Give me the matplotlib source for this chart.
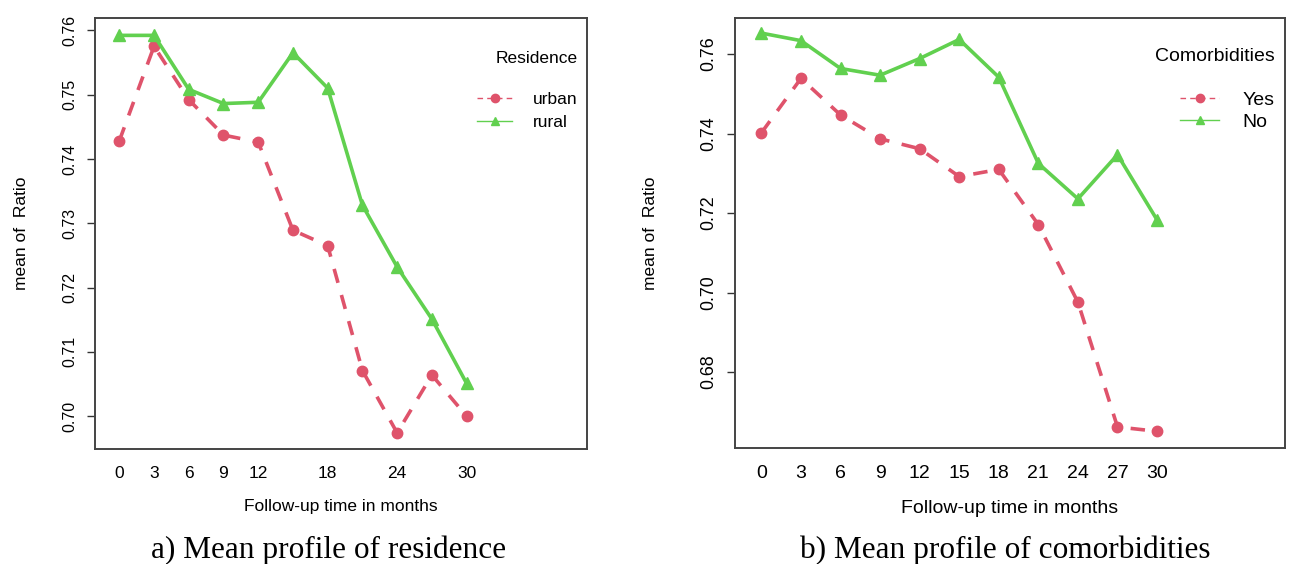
import matplotlib
matplotlib.use("Agg")
import matplotlib.pyplot as plt
from matplotlib.lines import Line2D

plt.rcParams["font.family"] = ["Liberation Sans", "DejaVu Sans"]

months = [0, 3, 6, 9, 12, 15, 18, 21, 24, 27, 30]

# panel a: residence
urban = [0.7428, 0.7575, 0.7492, 0.7437, 0.7426, 0.7289, 0.7265, 0.7071, 0.6974, 0.7064, 0.7000]
rural = [0.7592, 0.7592, 0.7508, 0.7486, 0.7488, 0.7565, 0.7510, 0.7328, 0.7232, 0.7151, 0.7051]
ticks_a = [0, 3, 6, 9, 12, 18, 24, 30]
yticks_a = [0.70, 0.71, 0.72, 0.73, 0.74, 0.75, 0.76]

# panel b: comorbidities
yes = [0.7402, 0.7539, 0.7447, 0.7387, 0.7362, 0.7292, 0.7310, 0.7171, 0.6976, 0.6662, 0.6651]
no = [0.7653, 0.7634, 0.7564, 0.7547, 0.7589, 0.7637, 0.7542, 0.7325, 0.7236, 0.7347, 0.7183]
ticks_b = months
yticks_b = [0.68, 0.70, 0.72, 0.74, 0.76]

RED = "#DF536B"
GREEN = "#61D04F"

fig = plt.figure(figsize=(12.9, 5.64), dpi=100)
axa = fig.add_axes([95 / 1290, 1 - 449 / 564, 492 / 1290, 431 / 564])
axb = fig.add_axes([735 / 1290, 1 - 448 / 564, 550 / 1290, 430 / 564])


def draw(ax, s1, s2, names, title, xticks, yticks, xlim, ylim, caption, cx,
         k, ypad, lspace, leg_y):
    # k: font scale of the panel (the two panels were pasted at different sizes)
    ax.plot(months, s1, color=RED, lw=2.6, dashes=(4, 3.5), marker="o", ms=7.5, mec=RED)
    ax.plot(months, s2, color=GREEN, lw=2.6, marker="^", ms=8, mec=GREEN)
    ax.set_xlim(*xlim)
    ax.set_ylim(*ylim)
    ax.set_xticks(xticks)
    ax.set_xticklabels([str(t) for t in xticks])
    ax.tick_params(axis="x", length=0, pad=12, labelsize=12.5 * k)
    ax.set_yticks(yticks)
    ax.set_yticklabels(["%.2f" % v for v in yticks], rotation=90, va="center")
    ax.tick_params(axis="y", length=6, width=1, pad=7, labelsize=11.5 * k, color="#333333")
    for sp in ax.spines.values():
        sp.set_linewidth(1.4)
        sp.set_color("#444444")
    ax.set_xlabel("Follow-up time in months", fontsize=12.5 * k, labelpad=13)
    ax.set_ylabel("mean of  Ratio", fontsize=12.5, labelpad=ypad)
    handles = [
        Line2D([], [], color=RED, lw=1, ls=(0, (4, 3)), marker="o", ms=6),
        Line2D([], [], color=GREEN, lw=1, marker="^", ms=6),
    ]
    leg = ax.legend(handles, names, title=title, loc="upper right", frameon=False,
                    fontsize=12.5 * k, title_fontsize=12.5 * k, alignment="right",
                    handlelength=2.0, handletextpad=1.2, labelspacing=lspace,
                    borderaxespad=0.15, bbox_to_anchor=(1.0, leg_y))
    leg._legend_box.sep = 19
    fig.text(cx, 1 - 550 / 564, caption, ha="center", va="center",
             fontsize=22.5, family="Liberation Serif")


draw(axa, urban, rural, ["urban", "rural"], "Residence", ticks_a, yticks_a,
     (-2.1, 40.4), (0.6949, 0.7619), "a) Mean profile of residence", 329 / 1290,
     1.0, 24, 0.45, 0.946)
draw(axb, yes, no, ["Yes", "No"], "Comorbidities", ticks_b, yticks_b,
     (-2.0, 39.7), (0.6609, 0.7691), "b) Mean profile of comorbidities", 1005 / 1290,
     1.12, 30, 0.2, 0.955)

fig.savefig("out.png", dpi=100)
